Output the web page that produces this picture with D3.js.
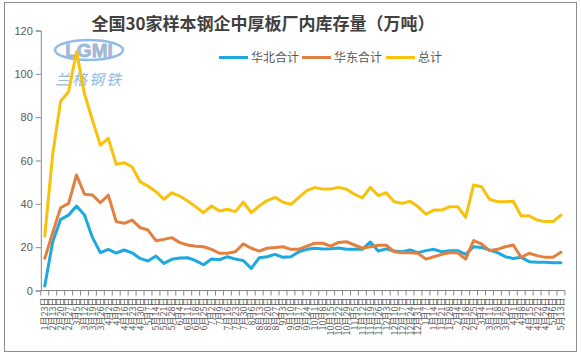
<!DOCTYPE html>
<html><head><meta charset="utf-8">
<script src="https://cdn.jsdelivr.net/npm/d3@7"></script>
<style>body{margin:0;background:#fff}svg{display:block}</style>
</head><body>
<script>
// ---- data ----
const dates = ["1月23日",
  "2月13日","2月20日","2月27日","3月5日","3月12日","3月19日","3月26日","4月2日","4月9日","4月16日","4月23日","4月30日",
  "5月7日","5月14日","5月21日","5月28日","6月4日","6月11日","6月18日","6月25日","7月2日","7月9日","7月16日","7月23日","7月30日",
  "8月6日","8月13日","8月20日","8月27日","9月3日","9月10日","9月17日","9月24日","10月1日","10月8日","10月15日","10月22日","10月29日",
  "11月5日","11月12日","11月19日","11月26日","12月3日","12月10日","12月17日","12月24日","12月31日",
  "1月7日","1月14日","1月21日","1月28日","2月4日","2月18日","2月25日","3月4日","3月11日","3月18日","3月25日",
  "4月1日","4月8日","4月15日","4月22日","4月29日","5月6日","5月13日"];
const huabei = [2.1,22.5,32.8,34.8,39,34.8,24.5,17.5,19,17.3,18.7,17.4,14.8,13.6,15.9,12.5,14.4,15,15.1,13.8,11.9,14.5,14.2,15.6,14.5,13.8,10.2,15.1,15.6,16.7,15.3,15.6,17.9,19,19.5,19.2,19.3,19.6,19,19,19,22.4,18.2,19.2,18.2,17.9,18.7,17.5,18.4,19,17.9,18.4,18.4,16.7,20.2,19.9,18.7,17.5,15.6,14.8,15.3,13.3,13,13,12.8,12.8,14.4];
const huadong = [14.8,26.7,38.2,40.2,53.3,44.4,44.1,40.5,44,31.8,31,32.5,29,27.9,23,23.6,24.4,22.1,21,20.4,20.2,19,17.2,17.2,17.9,21.5,19.5,18.2,19.5,19.8,20.2,19,19,20.5,21.8,21.8,20.5,22.2,22.5,21,19.5,20.2,20.9,20.9,17.9,17.4,17.4,17.2,14.5,15.6,16.7,17.4,17.4,14.5,23,21.5,18.4,19,20.2,21,15.3,17.2,16.1,15.3,15.3,17.7,17.7];
const total = [25.2,63,87.4,91.7,110.2,90.7,78.7,67.1,70.2,58.2,59,57.1,50.2,48.2,45.6,42.1,45.1,43.6,41.3,38.7,35.9,39,36.7,37.5,36.4,40.8,35.9,39,41.5,43,40.7,39.8,43,46.1,47.5,46.8,46.8,47.6,46.7,44.4,42.8,47.6,43.8,45.1,41,40.2,41.2,38.7,35.2,37.1,37.1,38.7,38.7,33.8,48.7,47.9,42.1,41,41,41.2,34.4,34.5,32.5,31.8,31.8,34.8,36.8];
const seriesNames = ["华北合计","华东合计","总计"];
const colors = ["#1DA8DF","#E3803F","#F7C10C"];
const yTicks = [0,20,40,60,80,100,120];
const title = "全国30家样本钢企中厚板厂内库存量（万吨）";

// ---- chart ----
const W = 581, H = 357;
const svg = d3.select("body").append("svg").attr("width", W).attr("height", H);
svg.append("rect").attr("x",4.5).attr("y",2.5).attr("width",572).attr("height",349)
  .attr("fill","#fff").attr("stroke","#8c8c8c").attr("stroke-width",1);

const pLeft = 40.8, pRight = 564.9, pTop = 30.5, pBottom = 290.5;
const x = d3.scaleBand().domain(d3.range(dates.length)).range([pLeft, pRight]);
const y = d3.scaleLinear().domain([0,120]).range([pBottom, pTop]);

// logo watermark
const logo = svg.append("g").attr("opacity",0.85);
logo.append("ellipse").attr("cx",89).attr("cy",50).attr("rx",34).attr("ry",10)
  .attr("fill","none").attr("stroke","#7fb0e3").attr("stroke-width",2.5);
logo.append("text").attr("x",89).attr("y",57).attr("text-anchor","middle")
  .attr("font-family","Arial, Liberation Sans, sans-serif").attr("font-size",19).attr("font-weight","bold")
  .attr("fill","#a9a9b8").attr("stroke","#7fb0e3").attr("stroke-width",0.8).text("LGMI");
logo.append("text").attr("x",89).attr("y",85).attr("text-anchor","middle")
  .attr("font-family","Noto Sans CJK SC").attr("font-size",15).attr("font-style","italic")
  .attr("letter-spacing",2).attr("fill","#7fb0e3").text("兰格钢铁");

// title
svg.append("text").attr("x",263).attr("y",30).attr("text-anchor","middle")
  .attr("font-family","Noto Sans CJK SC").attr("font-weight","bold").attr("font-size",17)
  .attr("fill","#404040").text(title);

// y axis
const yAxis = svg.append("g").attr("transform",`translate(${pLeft},0)`)
  .call(d3.axisLeft(y).tickValues(yTicks).tickSize(5).tickPadding(3));
yAxis.select(".domain").attr("stroke","#868686");
yAxis.selectAll(".tick line").attr("stroke","#868686");
yAxis.selectAll("text").attr("font-family","Liberation Sans, Arial, sans-serif").attr("font-size",11).attr("fill","#595959");

// x axis
const xg = svg.append("g").attr("transform",`translate(0,${pBottom})`);
xg.append("line").attr("x1",pLeft).attr("x2",pRight).attr("y1",0).attr("y2",0).attr("stroke","#868686");
xg.selectAll("line.tk").data(d3.range(dates.length+1)).join("line").attr("class","tk")
  .attr("x1",i=>pLeft + i*x.step()).attr("x2",i=>pLeft + i*x.step()).attr("y1",0).attr("y2",5)
  .attr("stroke","#868686");
xg.selectAll("text").data(dates).join("text")
  .attr("transform",(d,i)=>`translate(${x(i)+x.bandwidth()/2+3.5},7) rotate(-90)`)
  .attr("text-anchor","end")
  .attr("font-family","Noto Sans CJK SC").attr("font-size",9).attr("fill","#595959")
  .text(d=>d);

// lines
const data = [huabei, huadong, total];
const line = d3.line().x((d,i)=>x(i)+x.bandwidth()/2).y(d=>y(d));
svg.selectAll("path.series").data(data).join("path").attr("class","series")
  .attr("d",line).attr("fill","none").attr("stroke",(d,i)=>colors[i])
  .attr("stroke-width",3).attr("stroke-linejoin","round").attr("stroke-linecap","round");

// legend
const legX = [219, 302, 386];
const lg = svg.append("g");
seriesNames.forEach((n,i)=>{
  lg.append("line").attr("x1",legX[i]).attr("x2",legX[i]+29).attr("y1",57.5).attr("y2",57.5)
    .attr("stroke",colors[i]).attr("stroke-width",3);
  lg.append("text").attr("x",legX[i]+32).attr("y",62).attr("font-family","Noto Sans CJK SC")
    .attr("font-size",12).attr("fill","#595959").text(n);
});
</script>
</body></html>
